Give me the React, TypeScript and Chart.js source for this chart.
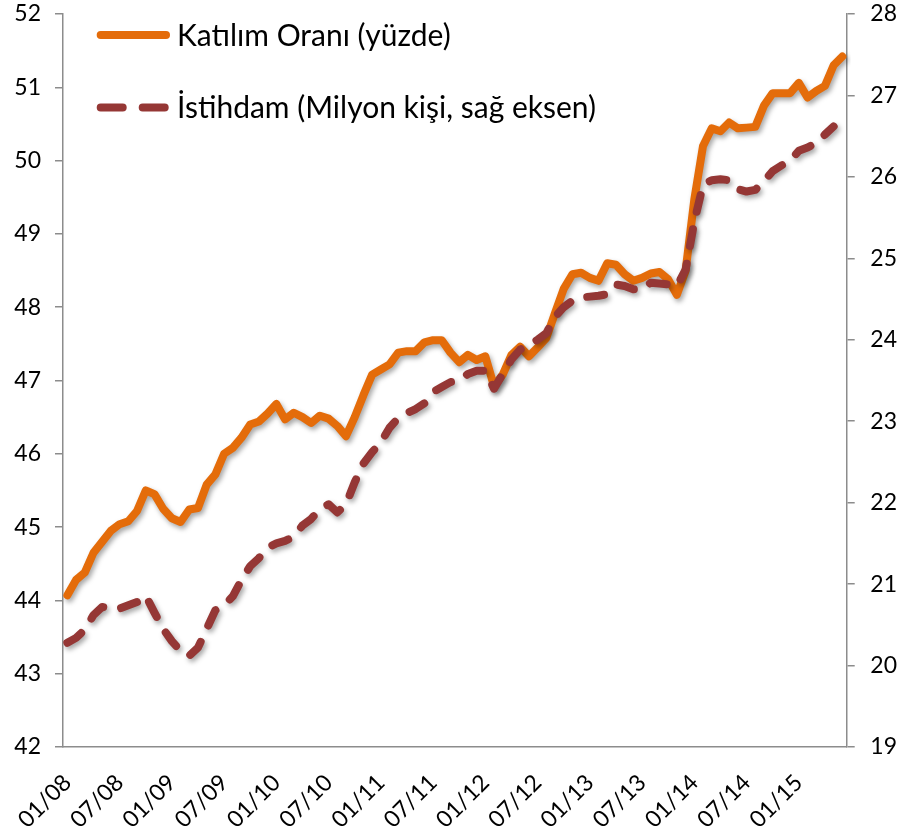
import React, { useEffect, useRef } from 'react';
import { Chart, registerables } from 'chart.js';

Chart.register(...registerables);

const categories = [
  '01/08', '02/08', '03/08', '04/08', '05/08', '06/08', '07/08', '08/08', '09/08', '10/08', '11/08', '12/08',
  '01/09', '02/09', '03/09', '04/09', '05/09', '06/09', '07/09', '08/09', '09/09', '10/09', '11/09', '12/09',
  '01/10', '02/10', '03/10', '04/10', '05/10', '06/10', '07/10', '08/10', '09/10', '10/10', '11/10', '12/10',
  '01/11', '02/11', '03/11', '04/11', '05/11', '06/11', '07/11', '08/11', '09/11', '10/11', '11/11', '12/11',
  '01/12', '02/12', '03/12', '04/12', '05/12', '06/12', '07/12', '08/12', '09/12', '10/12', '11/12', '12/12',
  '01/13', '02/13', '03/13', '04/13', '05/13', '06/13', '07/13', '08/13', '09/13', '10/13', '11/13', '12/13',
  '01/14', '02/14', '03/14', '04/14', '05/14', '06/14', '07/14', '08/14', '09/14', '10/14', '11/14', '12/14',
  '01/15', '02/15', '03/15', '04/15', '05/15', '06/15',
];

const participationRate = [
  44.07, 44.28, 44.38, 44.65, 44.80, 44.95, 45.04, 45.08, 45.22, 45.50,
  45.45, 45.25, 45.12, 45.07, 45.24, 45.26, 45.58, 45.72, 46.00, 46.08,
  46.22, 46.40, 46.44, 46.55, 46.68, 46.47, 46.56, 46.50, 46.42, 46.52,
  46.48, 46.38, 46.24, 46.50, 46.80, 47.08, 47.15, 47.22, 47.38, 47.40,
  47.40, 47.52, 47.55, 47.55, 47.38, 47.25, 47.35, 47.28, 47.33, 46.92,
  47.08, 47.35, 47.46, 47.33, 47.45, 47.58, 47.92, 48.25, 48.45, 48.47,
  48.40, 48.36, 48.60, 48.58, 48.45, 48.36, 48.40, 48.46, 48.48, 48.38,
  48.17, 48.50, 49.47, 50.20, 50.44, 50.40, 50.52, 50.44, 50.45, 50.46,
  50.75, 50.92, 50.92, 50.92, 51.06, 50.86, 50.95, 51.02, 51.30, 51.42,
];

const employment = [
  20.28, 20.34, 20.44, 20.62, 20.72, 20.70, 20.70, 20.74, 20.78, 20.86,
  20.65, 20.45, 20.30, 20.18, 20.12, 20.22, 20.45, 20.68, 20.74, 20.85,
  21.05, 21.22, 21.32, 21.45, 21.50, 21.53, 21.58, 21.72, 21.80, 21.92,
  21.98, 21.88, 21.98, 22.25, 22.48, 22.62, 22.74, 22.92, 23.04, 23.10,
  23.15, 23.22, 23.36, 23.42, 23.48, 23.50, 23.58, 23.62, 23.62, 23.40,
  23.58, 23.76, 23.88, 23.94, 24.00, 24.08, 24.28, 24.40, 24.48, 24.52,
  24.53, 24.54, 24.56, 24.68, 24.66, 24.62, 24.62, 24.70, 24.69, 24.68,
  24.66, 24.86, 25.45, 25.90, 25.96, 25.97, 25.96, 25.85, 25.82, 25.84,
  25.95, 26.07, 26.14, 26.20, 26.32, 26.36, 26.42, 26.52, 26.62, null,
];

const seriesNames = ['Katılım Oranı (yüzde)', 'İstihdam (Milyon kişi, sağ eksen)'];
const leftAxisRange = [42, 52];
const rightAxisRange = [19, 28];
const labelEvery = 6;

const ORANGE = '#E46C0A';
const DARKRED = '#953735';
const AXIS = '#8C8C8C';
const FONT = 'Lato';

const shadowPlugin = {
  id: 'lineShadow',
  beforeDatasetDraw(chart: any) {
    const ctx = chart.ctx;
    ctx.save();
    ctx.shadowColor = 'rgba(0,0,0,0.35)';
    ctx.shadowBlur = 5;
    ctx.shadowOffsetX = 2;
    ctx.shadowOffsetY = 3;
  },
  afterDatasetDraw(chart: any) {
    chart.ctx.restore();
  },
};

const legendPlugin = {
  id: 'customLegend',
  afterDatasetsDraw(chart: any) {
    const ctx = chart.ctx;
    ctx.save();
    ctx.lineCap = 'round';
    ctx.lineWidth = 8;
    ctx.strokeStyle = ORANGE;
    ctx.setLineDash([]);
    ctx.beginPath();
    ctx.moveTo(100.7, 35);
    ctx.lineTo(166, 35);
    ctx.stroke();
    ctx.strokeStyle = DARKRED;
    ctx.setLineDash([22, 20]);
    ctx.beginPath();
    ctx.moveTo(100.7, 107.5);
    ctx.lineTo(164.7, 107.5);
    ctx.stroke();
    ctx.setLineDash([]);
    ctx.fillStyle = '#000';
    ctx.font = `30px ${FONT}`;
    ctx.textBaseline = 'middle';
    ctx.textAlign = 'left';
    ctx.fillText(seriesNames[0], 177, 36);
    ctx.fillText(seriesNames[1], 177, 108);
    ctx.restore();
  },
};

const zeroPad = (s: any) => {
  s.paddingTop = 0;
  s.paddingBottom = 0;
  s.paddingLeft = 0;
  s.paddingRight = 0;
};

export default function App() {
  const ref = useRef<HTMLCanvasElement | null>(null);

  useEffect(() => {
    if (!ref.current) return;
    const chart = new Chart(ref.current, {
      type: 'line',
      data: {
        labels: categories,
        datasets: [
          {
            label: seriesNames[1],
            data: employment,
            yAxisID: 'y1',
            borderColor: DARKRED,
            backgroundColor: DARKRED,
            borderWidth: 8,
            borderDash: [17, 18],
            borderCapStyle: 'round',
            borderJoinStyle: 'round',
            pointRadius: 0,
            tension: 0,
            spanGaps: false,
            order: 0,
          },
          {
            label: seriesNames[0],
            data: participationRate,
            yAxisID: 'y',
            borderColor: ORANGE,
            backgroundColor: ORANGE,
            borderWidth: 8,
            borderCapStyle: 'round',
            borderJoinStyle: 'round',
            pointRadius: 0,
            tension: 0,
            order: 1,
          },
        ],
      },
      options: {
        responsive: false,
        animation: false,
        devicePixelRatio: 1,
        layout: { padding: { top: 14, left: 0, right: 0, bottom: 0 } },
        plugins: {
          legend: { display: false },
          tooltip: { enabled: false },
        },
        scales: {
          x: {
            type: 'category',
            offset: true,
            grid: { display: false },
            border: { display: true, color: AXIS, width: 1.5 },
            ticks: {
              autoSkip: false,
              maxRotation: 45,
              minRotation: 45,
              padding: 14,
              color: '#000',
              font: { family: FONT, size: 23 },
              callback: (_v: any, i: number) => (i % labelEvery === 0 ? categories[i] : ''),
            },
            afterFit: (s: any) => { s.height = 86; zeroPad(s); },
          },
          y: {
            type: 'linear',
            position: 'left',
            min: leftAxisRange[0],
            max: leftAxisRange[1],
            grid: { drawOnChartArea: false, drawTicks: true, tickLength: 8, color: AXIS, lineWidth: 1.5 },
            border: { display: true, color: AXIS, width: 1.5 },
            ticks: {
              stepSize: 1,
              padding: 14,
              color: '#000',
              font: { family: FONT, size: 23 },
            },
            afterFit: (s: any) => { s.width = 63; zeroPad(s); },
          },
          y1: {
            type: 'linear',
            position: 'right',
            min: rightAxisRange[0],
            max: rightAxisRange[1],
            grid: { drawOnChartArea: false, drawTicks: true, tickLength: 8, color: AXIS, lineWidth: 1.5 },
            border: { display: true, color: AXIS, width: 1.5 },
            ticks: {
              stepSize: 1,
              padding: 16,
              crossAlign: 'far',
              color: '#000',
              font: { family: FONT, size: 23 },
            },
            afterFit: (s: any) => { s.width = 50.3; zeroPad(s); },
          },
        },
      },
      plugins: [shadowPlugin, legendPlugin],
    });
    return () => chart.destroy();
  }, []);

  return (
    <div style={{ position: 'fixed', left: 0, top: 0, width: 897, height: 833, background: '#fff' }}>
      <canvas ref={ref} width={897} height={833} style={{ display: 'block' }} />
    </div>
  );
}
